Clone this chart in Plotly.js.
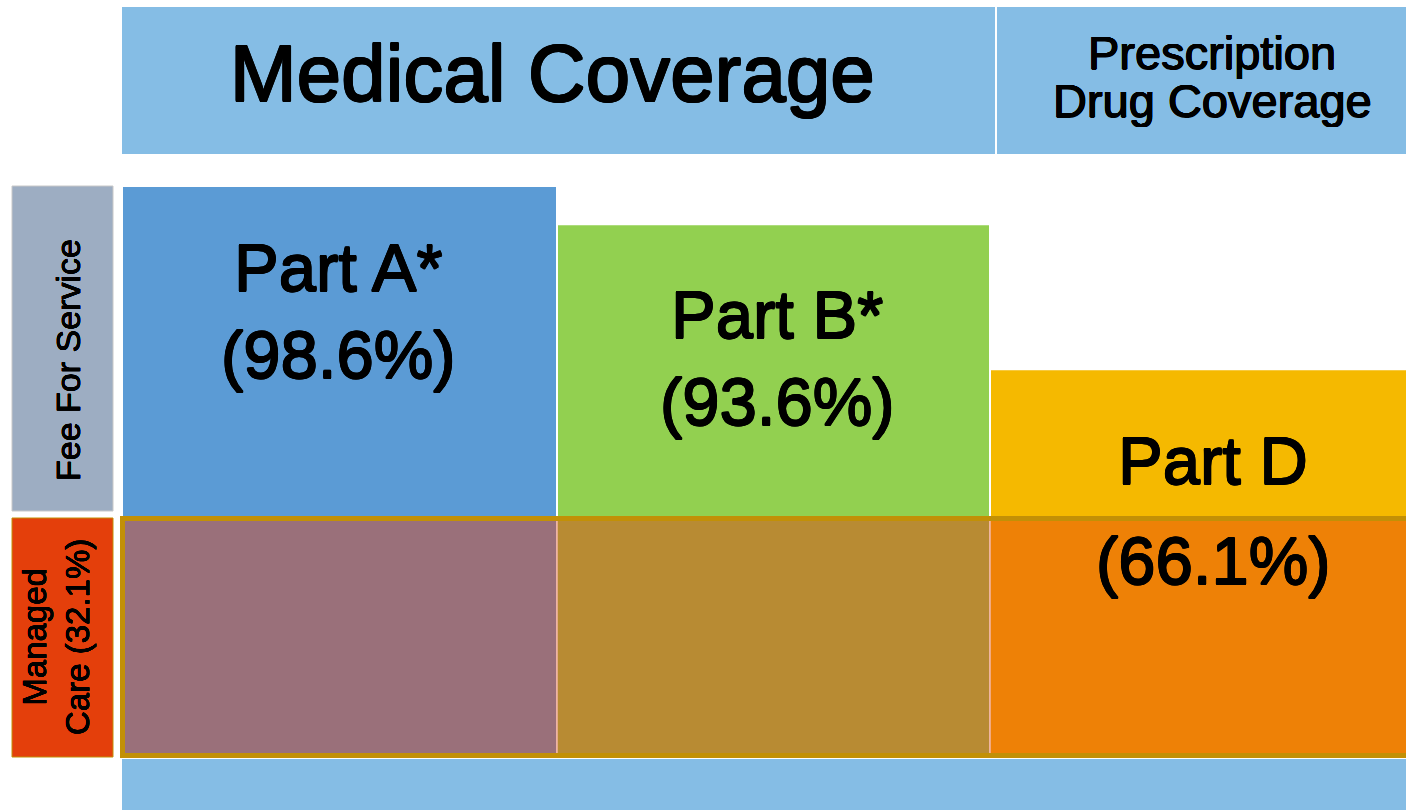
<!DOCTYPE html>
<html>
<head>
<meta charset="utf-8">
<script src="https://cdn.plot.ly/plotly-3.0.1.min.js"></script>
<style>
  html, body { margin: 0; padding: 0; background: #ffffff; }
  #chart { width: 1406px; height: 810px; }
</style>
</head>
<body>
<div id="chart"></div>
<script>
// ---------------- DATA ----------------
const categories = ['Part A*', 'Part B*', 'Part D'];
const coverageLabels = ['(98.6%)', '(93.6%)', '(66.1%)'];
// bar tops (percent scale, Part A = 98.6)
const feeForServiceTop = [98.6, 92.0, 66.9];
// managed care band top (same scale)
const managedCareTop = [41.1, 41.1, 41.1];
const headerLabels = ['Medical Coverage', 'Prescription', 'Drug Coverage'];
const rowLabels = ['Fee For Service', 'Managed<br>Care (32.1%)'];

// ---------------- LAYOUT CONSTANTS ----------------
const W = 1406, H = 810;
const COL_EDGES = [122, 557, 990, 1409];          // column edges (px)
const Y_RANGE = [-9.34, 130.77];                   // y=0 sits at pixel 756
const FONT = 'Liberation Sans, Arial, Helvetica, sans-serif';
const ffsColors = ['#5B9BD5', '#92D050', '#F5B900'];
const mcColors  = ['#9A707A', '#B88B33', '#EE8106'];

const px = x => x / W;
const py = y => 1 - y / H;

const centers = COL_EDGES.slice(0, 3).map((e, i) => (e + COL_EDGES[i + 1]) / 2);
const widths  = COL_EDGES.slice(0, 3).map((e, i) => COL_EDGES[i + 1] - e);

const ffsTrace = {
  type: 'bar',
  x: centers,
  width: widths,
  base: managedCareTop,
  y: feeForServiceTop.map((v, i) => v - managedCareTop[i]),
  marker: { color: ffsColors, line: { color: '#ffffff', width: 2 } },
  hoverinfo: 'skip',
  showlegend: false
};
const mcTrace = {
  type: 'bar',
  x: centers,
  width: widths,
  base: [0, 0, 0],
  y: managedCareTop,
  marker: { color: mcColors, line: { color: '#F2B8A8', width: 1.5 } },
  hoverinfo: 'skip',
  showlegend: false
};

const shapes = [
  // header boxes
  { type: 'rect', xref: 'paper', yref: 'paper', x0: px(122), x1: px(995), y0: py(154), y1: py(7),
    fillcolor: '#85BDE5', line: { width: 0 }, layer: 'below' },
  { type: 'rect', xref: 'paper', yref: 'paper', x0: px(997), x1: px(1406), y0: py(154), y1: py(7),
    fillcolor: '#85BDE5', line: { width: 0 }, layer: 'below' },
  // bottom band
  { type: 'rect', xref: 'paper', yref: 'paper', x0: px(122), x1: px(1406), y0: py(810), y1: py(759),
    fillcolor: '#85BDE5', line: { width: 0 }, layer: 'below' },
  // row label boxes
  { type: 'rect', xref: 'paper', yref: 'paper', x0: px(12), x1: px(113), y0: py(511), y1: py(186),
    fillcolor: '#9DADC2', line: { color: '#C8C8C8', width: 1 }, layer: 'below' },
  { type: 'rect', xref: 'paper', yref: 'paper', x0: px(12), x1: px(113), y0: py(757), y1: py(518),
    fillcolor: '#E43F0B', line: { color: '#C29006', width: 1 }, layer: 'below' },
  // managed care outline
  { type: 'rect', xref: 'paper', yref: 'paper', x0: px(122.5), x1: px(1412), y0: py(755.5), y1: py(518.5),
    fillcolor: 'rgba(0,0,0,0)', line: { color: '#C29006', width: 5 }, layer: 'above' }
];

const thick = d => d <= 0 ? 'none' : [
  `${d}px 0 0 #000`, `-${d}px 0 0 #000`, `0 ${d}px 0 #000`, `0 -${d}px 0 #000`,
  `${d*0.7}px ${d*0.7}px 0 #000`, `-${d*0.7}px -${d*0.7}px 0 #000`,
  `${d*0.7}px -${d*0.7}px 0 #000`, `-${d*0.7}px ${d*0.7}px 0 #000`
].join(', ');

const ann = (x, y, text, size, angle, d) => ({
  xref: 'paper', yref: 'paper', x: px(x), y: py(y), xanchor: 'center', yanchor: 'middle',
  text: text, showarrow: false, textangle: angle || 0,
  font: { family: FONT, size: size, color: '#000000', shadow: thick(d) }
});

const labelX = [338, 777, 1213];
const nameY = [268, 314, 460];
const pctY = [354, 402, 560];

// two tightly spaced header lines: fixed-height boxes aligned to the bottom
const rxLine1 = Object.assign(ann(1212, 31, headerLabels[1], 47, 0, 0.5),
  { yanchor: 'top', height: 47, valign: 'bottom', borderpad: 0 });
const rxLine2 = Object.assign(ann(1212, 79, headerLabels[2], 47, 0, 0.5),
  { yanchor: 'top', height: 47, valign: 'bottom', borderpad: 0 });

const annotations = [
  ann(552, 74, headerLabels[0], 80, 0, 0.9),
  rxLine1,
  rxLine2,
  ann(68, 360, rowLabels[0], 34, -90, 0.25),
  ann(56, 637, rowLabels[1], 33, -90, 0.25)
];
categories.forEach((c, i) => {
  annotations.push(ann(labelX[i], nameY[i], c, 67, 0, 0.8));
  annotations.push(ann(labelX[i], pctY[i], coverageLabels[i], 67, 0, 0.8));
});

const layout = {
  width: W, height: H,
  margin: { l: 0, r: 0, t: 0, b: 0, pad: 0 },
  paper_bgcolor: '#ffffff', plot_bgcolor: 'rgba(0,0,0,0)',
  xaxis: { range: [0, W], visible: false, fixedrange: true },
  yaxis: { range: Y_RANGE, visible: false, fixedrange: true },
  barmode: 'overlay',
  bargap: 0,
  shapes: shapes,
  annotations: annotations,
  showlegend: false
};

Plotly.newPlot('chart', [mcTrace, ffsTrace], layout, { displayModeBar: false, staticPlot: true });
</script>
</body>
</html>
